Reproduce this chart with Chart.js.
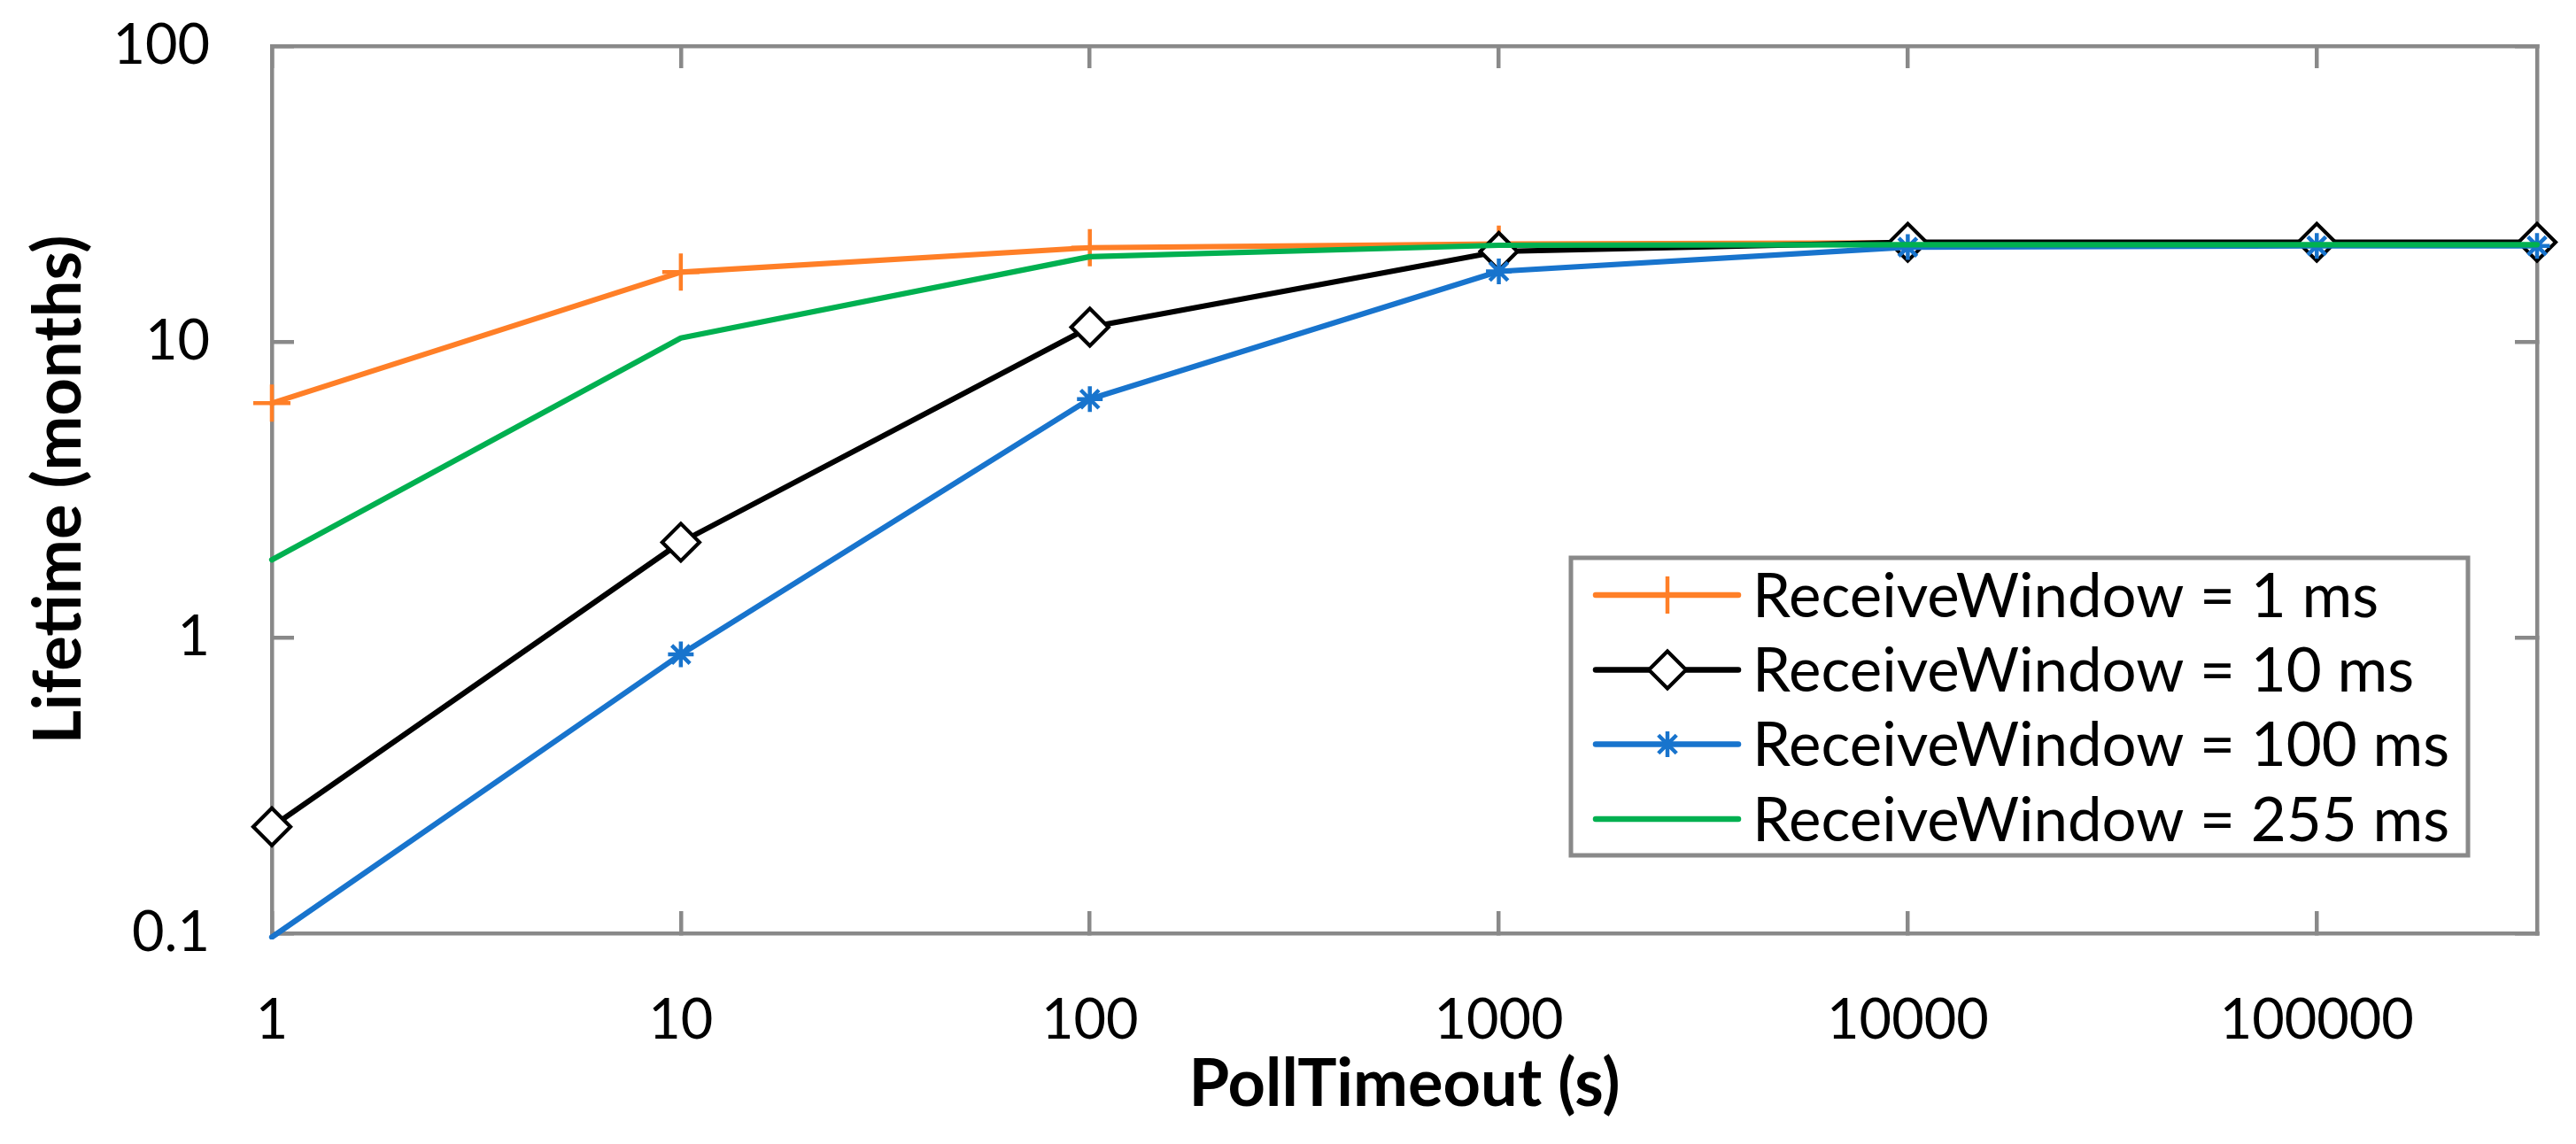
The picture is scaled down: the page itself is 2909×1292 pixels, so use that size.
<!DOCTYPE html>
<html>
<head>
<meta charset="utf-8">
<script src="https://cdn.jsdelivr.net/npm/chart.js@4.4.1/dist/chart.umd.min.js"></script>
<style>
  html, body { margin: 0; padding: 0; background: #ffffff; }
  #wrap { width: 2909px; height: 1292px; position: relative; }
  canvas { display: block; }
</style>
</head>
<body>
<div id="wrap"><canvas id="c" width="2909" height="1292"></canvas></div>
<script>
// ---- data ----
const pollTimeout = [1, 10, 100, 1000, 10000, 100000, 345600];
const rw1ms   = [6.2, 17.2, 20.8, 21.4, 21.6, 21.6, 21.6];
const rw10ms  = [0.229, 2.1, 11.2, 20.2, 21.7, 21.7, 21.7];
const rw100ms = [0.097, 0.877, 6.4, 17.3, 20.9, 21.1, 21.1];
const rw255ms = [1.83, 10.3, 19.4, 21.2, 21.3, 21.3, 21.3];
const seriesLabels = ['ReceiveWindow = 1 ms', 'ReceiveWindow = 10 ms', 'ReceiveWindow = 100 ms', 'ReceiveWindow = 255 ms'];
const xTicks = [1, 10, 100, 1000, 10000, 100000];
const xTickLabels = ['1', '10', '100', '1000', '10000', '100000'];
const yTicks = [0.1, 1, 10, 100];
const yTickLabels = ['0.1', '1', '10', '100'];
const xTitle = 'PollTimeout (s)';
const yTitle = 'Lifetime (months)';
const xMin = 1, xMax = 345600, yMin = 0.1, yMax = 100;

// ---- styles ----
const GRAY = '#898989';
const ORANGE = '#FF7F27';
const BLACK = '#000000';
const BLUE = '#1874CD';
const GREEN = '#00B050';
const FONT = 'Lato, "Open Sans", sans-serif';
const TL = -25;     // inward tick marks
const AXW = 4.5;

function pts(ys) { return pollTimeout.map((x, i) => ({ x: x, y: ys[i] })); }
function hideOutside(r) { return (ctx) => (ctx.raw && ctx.raw.y < yMin) ? 0 : r; }

const seriesData = [rw1ms, rw10ms, rw100ms, rw255ms];
const colors = [ORANGE, BLACK, BLUE, GREEN];
const markers = [
  { style: 'cross',   r: 21, bw: 4.5, fill: ORANGE },
  { style: 'rectRot', r: 21, bw: 4.2, fill: '#ffffff' },
  { style: 'star',    r: 14.5, bw: 4.5, fill: BLUE },
  { style: false,     r: 0,  bw: 0,   fill: GREEN }
];

const datasets = seriesData.map((ys, i) => ({
  label: seriesLabels[i],
  data: pts(ys),
  borderColor: colors[i],
  backgroundColor: colors[i],
  borderWidth: 6.2,
  borderJoinStyle: 'round',
  borderCapStyle: 'round',
  tension: 0,
  fill: false,
  pointStyle: markers[i].style,
  pointRadius: hideOutside(markers[i].r),
  pointHoverRadius: hideOutside(markers[i].r),
  pointBorderWidth: markers[i].bw,
  pointBorderColor: colors[i],
  pointBackgroundColor: markers[i].fill,
  order: 3 - i,
  clip: { left: 30, right: 30, top: 30, bottom: 7 }
}));

function gridOpts() {
  return { display: true, drawOnChartArea: false, drawTicks: true, tickLength: TL, color: GRAY, lineWidth: AXW };
}
function borderOpts() { return { display: true, color: GRAY, width: AXW }; }
function fixSize(prop, value) {
  return (s) => { s[prop] = value; s.paddingTop = 0; s.paddingBottom = 0; s.paddingLeft = 0; s.paddingRight = 0; };
}

// Legend drawn inside the plot area (line sample + marker + label)
const insideLegend = {
  id: 'insideLegend',
  afterDraw(chart) {
    const ctx = chart.ctx;
    const box = { left: 1774, top: 630, right: 2787, bottom: 966 };
    const rows = [672, 756.5, 840.5, 925];
    ctx.save();
    ctx.fillStyle = '#ffffff';
    ctx.fillRect(box.left, box.top, box.right - box.left, box.bottom - box.top);
    ctx.strokeStyle = GRAY;
    ctx.lineWidth = 5;
    ctx.strokeRect(box.left, box.top, box.right - box.left, box.bottom - box.top);
    chart.data.datasets.forEach((ds, i) => {
      const y = rows[i];
      ctx.strokeStyle = ds.borderColor;
      ctx.lineWidth = 6.5;
      ctx.lineCap = 'round';
      ctx.beginPath(); ctx.moveTo(1802, y); ctx.lineTo(1963, y); ctx.stroke();
      const m = markers[i];
      const cx = 1883;
      if (m.style) {
        ctx.lineCap = 'butt';
        ctx.lineWidth = m.bw;
        ctx.strokeStyle = ds.borderColor;
        ctx.fillStyle = m.fill;
        if (Chart.helpers && Chart.helpers.drawPoint) {
          Chart.helpers.drawPoint(ctx, { pointStyle: m.style, radius: m.r, borderWidth: m.bw, rotation: 0 }, cx, y);
        }
      }
      ctx.fillStyle = '#000000';
      ctx.font = '69px ' + FONT;
      ctx.textAlign = 'left';
      ctx.textBaseline = 'alphabetic';
      ctx.fillText(ds.label, 1979, y + 24.5);
    });
    ctx.restore();
  }
};

new Chart(document.getElementById('c'), {
  type: 'line',
  data: { datasets: datasets },
  plugins: [insideLegend],
  options: {
    responsive: false,
    animation: false,
    devicePixelRatio: 1,
    layout: { padding: 0 },
    plugins: { legend: { display: false }, tooltip: { enabled: false }, title: { display: false } },
    scales: {
      x: {
        type: 'logarithmic', position: 'bottom', min: xMin, max: xMax,
        afterBuildTicks: (s) => { s.ticks = xTicks.map(v => ({ value: v })); },
        afterFit: fixSize('height', 1292 - 1054),
        grid: gridOpts(), border: borderOpts(),
        ticks: { autoSkip: false, maxRotation: 0, minRotation: 0, padding: 86, color: '#000',
                 font: { family: FONT, size: 63 }, callback: (v, i) => xTickLabels[i] },
        title: { display: true, text: xTitle, color: '#000', font: { family: FONT, size: 74, weight: 'bold' },
                 padding: { top: 0, bottom: 22 } }
      },
      x2: {
        type: 'logarithmic', position: 'top', min: xMin, max: xMax,
        afterBuildTicks: (s) => { s.ticks = xTicks.map(v => ({ value: v })); },
        afterFit: fixSize('height', 52),
        grid: gridOpts(), border: borderOpts(),
        ticks: { display: false }
      },
      y: {
        type: 'logarithmic', position: 'left', min: yMin, max: yMax,
        afterBuildTicks: (s) => { s.ticks = yTicks.map(v => ({ value: v })); },
        afterFit: fixSize('width', 307),
        grid: gridOpts(), border: borderOpts(),
        ticks: { autoSkip: false, padding: 95, color: '#000',
                 font: { family: FONT, size: 63 }, callback: (v, i) => yTickLabels[i] },
        title: { display: true, text: yTitle, color: '#000', font: { family: FONT, size: 74, weight: 'bold' },
                 padding: { top: 23, bottom: 0 } }
      },
      y2: {
        type: 'logarithmic', position: 'right', min: yMin, max: yMax,
        afterBuildTicks: (s) => { s.ticks = yTicks.map(v => ({ value: v })); },
        afterFit: fixSize('width', 2909 - 2865),
        grid: gridOpts(), border: borderOpts(),
        ticks: { display: false }
      }
    }
  }
});
</script>
</body>
</html>
